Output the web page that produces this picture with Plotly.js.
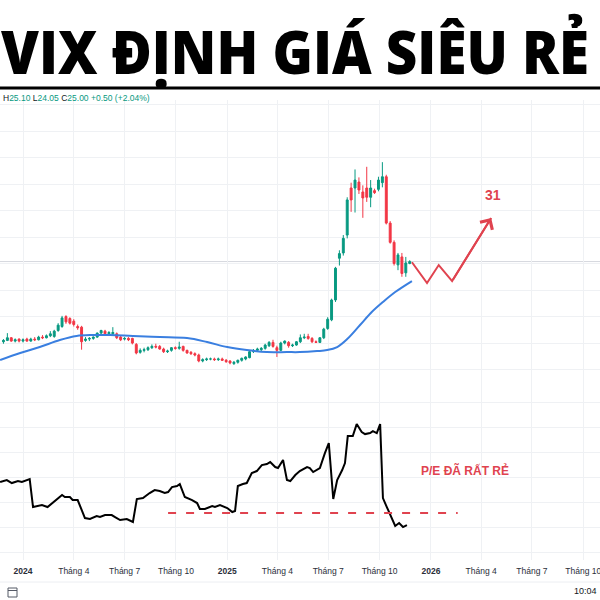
<!DOCTYPE html>
<html><head><meta charset="utf-8">
<script src="https://cdn.plot.ly/plotly-3.0.1.min.js"></script>
<style>html,body{margin:0;padding:0;background:#fff;}#chart{width:600px;height:600px;}</style>
</head><body><div id="chart"></div>
<script>
// ---------- DATA ----------
const titleText = 'VIX ĐỊNH GIÁ SIÊU RẺ';
const firstWeek = '2023-11-27'; // weekly candles, one per week
const openP  = [12.2,12.4,12.8,12.3,12.6,12.3,12.6,12.3,12.6,12.5,12.9,12.8,13.1,13.0,13.9,14.5,16.0,15.7,15.3,14.5,
  14.4,12.4,12.6,12.7,12.9,13.5,13.8,13.4,13.4,13.4,12.9,12.6,12.7,12.7,11.8,10.6,10.9,11.0,11.3,11.5,
  11.5,11.1,10.7,10.9,11.3,11.2,11.5,10.9,10.6,10.4,10.2,9.3,9.5,9.6,9.6,9.5,9.6,9.4,9.3,8.9,
  9.1,9.4,9.6,9.8,10.7,10.9,11.0,11.2,11.6,12.1,11.3,10.9,12.0,12.1,11.6,11.7,12.2,12.8,13.0,12.7,
  12.2,12.1,12.8,14.2,15.5,18.5,24.8,25.6,28.3,35.4,35.4,36.3,34.8,35.4,34.0,35.0,35.2,36.2,37.1,30.1,
  27.2,23.8,25.0,22.6,24.0];
const highP  = [12.6,13.5,12.9,12.7,12.7,12.7,12.8,12.8,12.9,13.1,13.2,13.3,13.8,14.0,15.0,16.1,16.2,15.9,15.6,14.8,
  14.6,12.9,12.9,13.0,13.6,14.0,14.0,13.8,14.4,13.6,13.1,12.9,12.9,12.8,12.0,11.2,11.3,11.5,11.8,11.9,
  11.7,11.3,11.0,11.4,11.5,12.2,11.6,11.0,10.8,10.6,10.4,9.7,9.8,9.8,9.8,9.8,9.8,9.6,9.4,9.3,
  9.5,9.8,10.0,10.9,11.1,11.3,11.4,11.9,12.3,12.5,11.6,12.2,12.4,12.3,11.9,12.3,13.3,13.4,13.4,12.9,
  12.4,12.9,14.3,15.9,18.7,23.5,26.0,28.3,34.0,36.2,38.2,37.0,35.8,38.6,36.6,35.3,37.1,39.3,37.4,30.4,
  27.5,25.6,25.6,25.0,24.5];
const lowP   = [11.9,12.3,12.2,12.1,12.1,12.1,12.2,12.2,12.3,12.4,12.6,12.7,12.9,12.8,13.7,14.3,14.9,14.8,14.5,14.0,
  11.0,12.2,12.3,12.5,12.8,13.3,13.3,13.2,13.2,12.6,12.3,12.4,12.3,11.8,10.3,10.4,10.6,10.8,11.1,11.2,
  11.0,10.5,10.5,10.7,11.0,11.0,10.7,10.4,10.2,10.0,9.1,9.1,9.3,9.4,9.3,9.3,9.3,9.0,8.8,8.7,
  8.9,9.2,9.4,9.7,10.5,10.7,10.8,11.0,11.4,11.3,9.9,10.8,11.8,11.3,11.4,11.6,12.0,12.6,12.5,12.0,
  12.0,12.0,12.6,14.0,15.3,18.2,23.7,25.2,27.8,31.8,31.7,34.5,30.9,33.3,32.5,34.5,34.9,35.5,29.9,27.0,
  23.7,23.0,22.0,22.0,23.9];
const closeP = [12.4,12.8,12.3,12.5,12.3,12.5,12.3,12.6,12.5,12.9,12.8,13.1,13.4,13.8,14.7,15.8,15.2,15.0,14.8,14.3,
  12.2,12.6,12.7,12.9,13.5,13.9,13.4,13.6,13.6,12.8,12.5,12.7,12.5,12.0,10.5,10.9,11.0,11.3,11.5,11.4,
  11.1,10.7,10.8,11.3,11.2,11.4,10.9,10.5,10.4,10.2,9.3,9.5,9.6,9.6,9.5,9.6,9.4,9.2,9.0,9.1,
  9.4,9.7,9.9,10.7,10.9,11.1,11.2,11.7,12.1,11.5,10.9,12.0,12.3,11.6,11.7,12.2,12.8,12.9,12.7,12.2,
  12.1,12.8,14.1,15.6,18.5,23.3,25.5,27.8,33.6,33.6,36.6,35.1,33.9,34.0,35.4,34.7,36.6,37.1,30.1,27.2,
  24.0,25.3,22.5,24.1,24.3];

// moving average (blue line)
const maDates  = ['2023-11-21','2023-12-27','2024-01-31','2024-03-07','2024-04-06','2024-05-05','2024-06-05','2024-07-16',
  '2024-09-02','2024-10-21','2024-11-26','2025-01-01','2025-02-05','2025-03-13','2025-04-18','2025-05-11','2025-06-11',
  '2025-06-29','2025-07-17','2025-08-04','2025-08-27','2025-09-17','2025-10-07','2025-10-29','2025-11-28'];
const maValues = [9.43,10.49,11.40,12.45,13.06,13.21,13.21,13.06,12.91,12.75,12.15,11.40,10.94,10.64,10.64,10.64,10.79,
  10.94,11.40,12.60,14.72,16.68,18.19,19.70,21.36];

// projected path (red zigzag) and target
const projDates  = ['2025-11-28','2025-12-25','2026-01-15','2026-02-08','2026-04-19'];
const projPrices = [24.2,21.06,23.77,21.36,30.87];
const targetLabel = '31';
const targetDate = '2026-04-23', targetPrice = 34.3;

// P/E line (lower pane)
const peDates = ['2023-11-21','2023-12-03','2023-12-12','2023-12-23','2023-12-30','2024-01-08','2024-01-13','2024-01-19',
  '2024-02-04','2024-02-14','2024-02-27','2024-03-11','2024-03-16','2024-03-25','2024-03-30','2024-04-08','2024-04-21',
  '2024-04-30','2024-05-12','2024-05-18','2024-05-27','2024-06-08','2024-06-14','2024-06-23','2024-07-05','2024-07-16',
  '2024-07-23','2024-08-03','2024-08-15','2024-08-24','2024-09-02','2024-09-11','2024-09-17','2024-09-24','2024-10-03',
  '2024-10-08','2024-10-17','2024-10-30','2024-11-08','2024-11-13','2024-11-22','2024-12-05','2024-12-10','2024-12-19',
  '2025-01-01','2025-01-10','2025-01-15','2025-01-20','2025-01-29','2025-02-05','2025-02-14','2025-02-23','2025-03-04',
  '2025-03-13','2025-03-19','2025-03-28','2025-04-02','2025-04-11','2025-04-18','2025-04-24','2025-05-03','2025-05-11',
  '2025-05-24','2025-05-29','2025-06-04','2025-06-16','2025-06-25','2025-07-02','2025-07-10','2025-07-17','2025-07-26',
  '2025-07-31','2025-08-05','2025-08-14','2025-08-21','2025-08-30','2025-09-05','2025-09-14','2025-09-19','2025-09-26',
  '2025-10-02','2025-10-07','2025-10-14','2025-10-20','2025-10-29','2025-11-05','2025-11-12','2025-11-19'];
const peValues = [19.0,19.4,18.8,19.2,19.0,19.4,19.6,14.0,14.4,14.0,15.2,16.4,16.0,16.0,15.4,15.4,11.8,11.6,12.2,12.0,
  12.4,12.4,12.0,11.4,11.6,11.0,15.6,15.8,16.8,17.4,17.2,16.8,17.0,18.0,18.2,18.6,16.0,15.4,14.8,13.6,13.6,14.2,14.0,
  14.4,13.8,13.0,13.2,18.2,18.6,18.8,20.8,21.2,22.4,22.6,23.0,22.0,21.8,23.4,19.4,19.2,20.4,21.2,22.0,21.8,21.0,21.8,
  24.8,26.8,15.6,19.4,21.4,22.8,28.2,28.2,30.6,29.0,28.6,28.8,29.2,28.8,30.6,15.8,14.0,12.4,10.2,10.8,10.0,10.4];
const peFloor = 12.8;
const peFloorDates = ['2024-09-17','2026-02-18'];
const peNote = 'P/E ĐÃ RẤT RẺ';
const peNoteDate = '2026-03-03', peNoteValue = 21.4;

const tickDates = ['2024-01-01','2024-04-01','2024-07-01','2024-10-01','2025-01-01','2025-04-01','2025-07-01','2025-10-01',
  '2026-01-01','2026-04-01','2026-07-01','2026-10-01'];
const tickLabels = ['<b>2024</b>','Tháng 4','Tháng 7','Tháng 10','<b>2025</b>','Tháng 4','Tháng 7','Tháng 10',
  '<b>2026</b>','Tháng 4','Tháng 7','Tháng 10'];

// ---------- BUILD ----------
const start = Date.parse(firstWeek + 'T00:00:00Z');
const weekDates = openP.map((_, i) => new Date(start + i * 7 * 864e5).toISOString().slice(0, 10));

const W = 600, T = 100, B = 560, H = B - T;
const px = x => x / W;
const py = y => (B - y) / H;

const RED = '#e0434f', GREEN = '#089981', CRED = '#F23645', GRID = '#eff1f4';
const SANS = 'Liberation Sans, Arial, sans-serif';
const lastClose = closeP[closeP.length - 1];

const traces = [
  { type: 'candlestick', x: weekDates, open: openP, high: highP, low: lowP, close: closeP,
    xaxis: 'x', yaxis: 'y', whiskerwidth: 0, hoverinfo: 'skip',
    increasing: { line: { color: GREEN, width: 1 }, fillcolor: GREEN },
    decreasing: { line: { color: CRED, width: 1 }, fillcolor: CRED } },
  { type: 'scatter', mode: 'lines', x: maDates, y: maValues, xaxis: 'x', yaxis: 'y',
    line: { color: '#3a7fe0', width: 2, shape: 'spline', smoothing: 1 } },
  { type: 'scatter', mode: 'lines', x: projDates, y: projPrices, xaxis: 'x', yaxis: 'y',
    line: { color: RED, width: 2 } },
  { type: 'scatter', mode: 'lines', x: peDates, y: peValues, xaxis: 'x', yaxis: 'y2',
    line: { color: '#000000', width: 2 } },
  { type: 'scatter', mode: 'lines', x: peFloorDates, y: [peFloor, peFloor], xaxis: 'x', yaxis: 'y2',
    line: { color: RED, width: 2, dash: '8px,10px' } }
];

const n = projDates.length;
const layout = {
  width: 600, height: 600, margin: { l: 0, r: 0, t: T, b: 600 - B },
  paper_bgcolor: '#ffffff', plot_bgcolor: '#ffffff', showlegend: false, hovermode: false,
  xaxis: { type: 'date', range: ['2023-11-20 19:00', '2026-10-31'], anchor: 'y2', domain: [0, 1],
    tickvals: tickDates, ticktext: tickLabels, ticks: '', showline: false, zeroline: false,
    showgrid: true, gridcolor: GRID, gridwidth: 1, ticklabelstandoff: 4, ticklabeloverflow: 'allow',
    tickfont: { family: SANS, size: 8.5, color: '#2a2e39' },
    rangeslider: { visible: false }, fixedrange: true },
  yaxis: { domain: [0.365, 1], range: [4.60, 48.68], dtick: 4, tick0: 0, showticklabels: false,
    showgrid: true, gridcolor: GRID, zeroline: false, showline: false, fixedrange: true },
  yaxis2: { domain: [0, 0.365], range: [3.4, 37], dtick: 5, tick0: 0, showticklabels: false,
    showgrid: true, gridcolor: GRID, zeroline: false, showline: false, fixedrange: true },
  shapes: [
    { type: 'line', xref: 'paper', yref: 'paper', x0: 0, x1: 1, y0: py(88), y1: py(88),
      line: { color: '#000000', width: 3 } },
    { type: 'line', xref: 'paper', yref: 'y', x0: 0, x1: 1, y0: lastClose, y1: lastClose,
      line: { color: '#d6d8de', width: 1 }, layer: 'below' },
    { type: 'line', xref: 'paper', yref: 'paper', x0: 0, x1: 1, y0: py(582), y1: py(582),
      line: { color: '#eceef2', width: 1 } },
    { type: 'rect', xref: 'paper', yref: 'paper', x0: px(8), x1: px(17), y0: py(597), y1: py(588),
      line: { color: '#555a66', width: 1 } },
    { type: 'line', xref: 'paper', yref: 'paper', x0: px(8), x1: px(17), y0: py(590.5), y1: py(590.5),
      line: { color: '#555a66', width: 1 } }
  ],
  annotations: [
    { xref: 'paper', yref: 'paper', x: px(0), y: py(51), xanchor: 'left', yanchor: 'middle',
      text: titleText, showarrow: false, borderpad: 0,
      font: { family: 'Open Sans, Liberation Sans, sans-serif', size: 60, color: '#000000', weight: 800 } },
    { xref: 'paper', yref: 'paper', x: px(1), y: py(98), xanchor: 'left', yanchor: 'middle', showarrow: false,
      text: '<span style="color:#131722">H</span><span style="color:#089981">25.10</span> ' +
            '<span style="color:#131722">L</span><span style="color:#089981">24.05</span> ' +
            '<span style="color:#131722">C</span><span style="color:#089981">25.00</span> ' +
            '<span style="color:#089981">+0.50 (+2.04%)</span>',
      font: { family: SANS, size: 8.5, color: '#089981' } },
    { xref: 'x', yref: 'y', x: projDates[n - 1], y: projPrices[n - 1], ax: projDates[n - 2], ay: projPrices[n - 2],
      axref: 'x', ayref: 'y', text: '', showarrow: true, arrowhead: 4, arrowsize: 1.4, arrowwidth: 2,
      arrowcolor: RED, standoff: 0 },
    { xref: 'x', yref: 'y', x: targetDate, y: targetPrice, text: '<b>' + targetLabel + '</b>', showarrow: false,
      font: { family: SANS, size: 14, color: RED } },
    { xref: 'x', yref: 'y2', x: peNoteDate, y: peNoteValue, text: '<b>' + peNote + '</b>', showarrow: false,
      font: { family: SANS, size: 12, color: RED } },
    { xref: 'paper', yref: 'paper', x: px(599), y: py(591), xanchor: 'right', yanchor: 'middle', showarrow: false,
      text: '10:04', font: { family: SANS, size: 9, color: '#131722' } }
  ]
};

Plotly.newPlot('chart', traces, layout, { staticPlot: true, displayModeBar: false }).then(gd => {
  // condense the heavy headline horizontally so it spans the width like the reference
  const t = gd.querySelector('.annotation .annotation-text');
  if (t) {
    const bb = t.getBBox();
    const sx = Math.min(1, 588 / bb.width);
    t.setAttribute('transform', 'translate(' + (bb.x * (1 - sx)) + ',0) scale(' + sx + ',1)');
  }
});
</script></body></html>
